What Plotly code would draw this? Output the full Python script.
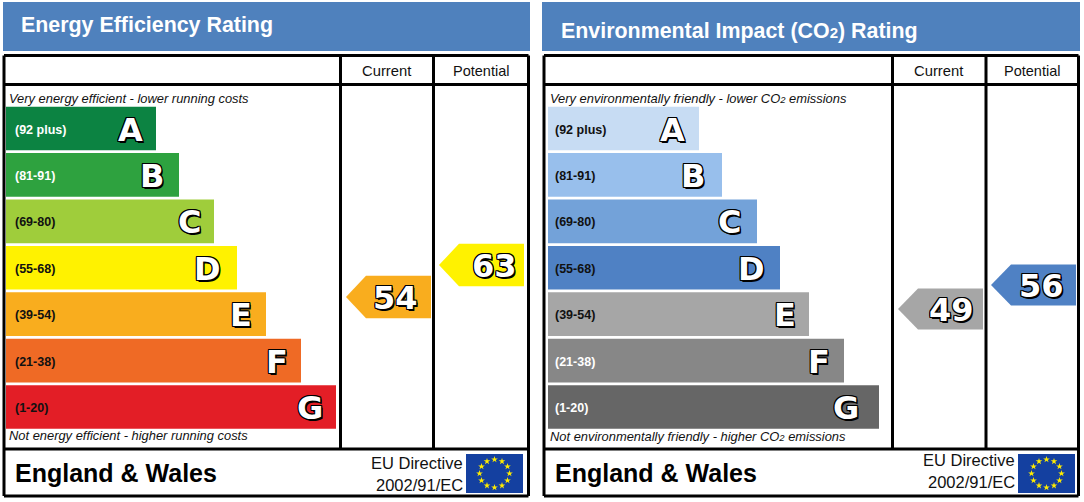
import math

import plotly.graph_objects as go

# data
bands = ["A", "B", "C", "D", "E", "F", "G"]
score_ranges = ["(92 plus)", "(81-91)", "(69-80)", "(55-68)", "(39-54)", "(21-38)", "(1-20)"]
band_floor = [92, 81, 69, 55, 39, 21, 1]

energy_lengths = [150, 173, 208, 231, 260, 295, 330]
co2_lengths = [151, 174, 209, 232, 261, 296, 331]

energy_colors = ["#0c8342", "#2ea23f", "#9fcd3b", "#fff200", "#f9ad1e", "#ef6a25", "#e31e26"]
co2_colors = ["#c7dcf3", "#98bfec", "#73a2d9", "#4f81c4", "#a6a6a6", "#878787", "#666666"]

energy_label_colors = ["white", "white", "#111", "#111", "#111", "#111", "#111"]
co2_label_colors = ["#111", "#111", "#111", "#111", "#111", "white", "white"]

energy_current, energy_potential = 54, 63
co2_current, co2_potential = 49, 56

W, H = 1084, 502
BLUE = "#4f81bd"
OUTLINE = (
    "1px 0 0 #000, -1px 0 0 #000, 0 1px 0 #000, 0 -1px 0 #000, "
    "1px 1px 0 #000, -1px 1px 0 #000, 1px -1px 0 #000, -1px -1px 0 #000, 1.5px 1.5px 0 #000"
)
SANS = "Liberation Sans"
BIG = dict(family="DejaVu Sans", size=32, color="white", weight="bold", shadow=OUTLINE)

energy_inset = [26, 27, 25, 30, 25, 24, 26]
co2_inset = [27, 29, 28, 29, 24, 25, 33]

fig = go.Figure()
shapes = []
annotations = []


def add_bars(lengths, colors, label_colors, inset, xa, ya, label_x):
    fig.add_trace(go.Bar(
        x=lengths, y=bands, orientation="h", marker=dict(color=colors, line_width=0),
        xaxis=xa, yaxis=ya, hoverinfo="skip",
    ))
    for i, band in enumerate(bands):
        annotations.append(dict(
            xref=xa, yref=ya, x=label_x, y=band, text=score_ranges[i], showarrow=False,
            xanchor="left", yanchor="middle", yshift=-1,
            font=dict(family=SANS, size=12.5, color=label_colors[i], weight="bold"),
        ))
        annotations.append(dict(
            xref=xa, yref=ya, x=lengths[i] - inset[i], y=band, text=band, showarrow=False,
            xanchor="center", yanchor="middle", yshift=-1, font=BIG,
        ))


def band_color(value, colors):
    for floor, color in zip(band_floor, colors):
        if value >= floor:
            return color
    return colors[-1]


def add_pointer(value, right_edge, colors, ya, text_inset):
    # pentagon pointing left, y stays in score units
    half = 6.0
    xs = [right_edge, right_edge - 65, right_edge - 85, right_edge - 65, right_edge, right_edge]
    ys = [value + half, value + half, value, value - half, value - half, value + half]
    fig.add_trace(go.Scatter(
        x=xs, y=ys, mode="lines", fill="toself", fillcolor=band_color(value, colors),
        line_width=0, xaxis="x3", yaxis=ya, hoverinfo="skip",
    ))
    annotations.append(dict(
        xref="x3", yref=ya, x=right_edge - text_inset, y=value, text=str(value), showarrow=False,
        xanchor="center", yanchor="middle", yshift=-1, font=BIG,
    ))


add_bars(energy_lengths, energy_colors, energy_label_colors, energy_inset, "x", "y", 7)
add_bars(co2_lengths, co2_colors, co2_label_colors, co2_inset, "x2", "y2", 5)

add_pointer(energy_current, 431, energy_colors, "y3", 36)
add_pointer(energy_potential, 524, energy_colors, "y3", 30)
add_pointer(co2_current, 983, co2_colors, "y4", 32)
add_pointer(co2_potential, 1076, co2_colors, "y4", 35)


def rect(x0, y0, x1, y1, color):
    shapes.append(dict(type="rect", xref="x3", yref="y5", x0=x0, x1=x1, y0=y0, y1=y1,
                       fillcolor=color, line_width=0, layer="below"))


def line(x0, y0, x1, y1, width=3):
    shapes.append(dict(type="line", xref="x3", yref="y5", x0=x0, x1=x1, y0=y0, y1=y1,
                       line=dict(color="black", width=width), layer="below"))


def label(x, y, text, size, anchor="left", bold=False, italic=False, color="#111"):
    annotations.append(dict(
        xref="x3", yref="y5", x=x, y=y, text=text, showarrow=False, xanchor=anchor, yanchor="middle",
        font=dict(family=SANS, size=size, color=color, weight="bold" if bold else "normal",
                  style="italic" if italic else "normal"),
    ))


SMALL2 = '<span style="font-size:{}px">2</span>'


def panel(left, right, col1, col2, head_left, head_right, title, title_y, note_top, note_bottom, note_dy,
          note_x, eu_right, eu_y):
    rect(head_left, 2, head_right, 51, BLUE)
    label(left + 15, title_y, title, 21.4, bold=True, color="white")
    line(left, 55.5, right, 55.5)
    line(left, 84.5, right, 84.5)
    line(left, 449, right, 449)
    line(left, 496, right, 496)
    line(left, 55.5, left, 496)
    line(right, 55.5, right, 496)
    line(col1, 55.5, col1, 449)
    line(col2, 55.5, col2, 449)
    label((col1 + col2) / 2 - 1, 70.5, "Current", 14.8, anchor="center")
    label((col2 + right) / 2 - 0.5, 70.5, "Potential", 14.5, anchor="center")
    label(left + note_x, 98.5, note_top, 12.9, italic=True)
    label(left + note_x, 435.5 + note_dy, note_bottom, 12.9, italic=True)
    label(left + 9, 473, "England &amp; Wales", 25, bold=True, color="black")
    label(eu_right + 1.5, eu_y, "EU Directive", 16.5, anchor="right")
    label(eu_right + 1.5, eu_y + 22, "2002/91/EC", 16.5, anchor="right")
    # flag
    fx0 = eu_right + 3
    rect(fx0, 454, fx0 + 57, 493, "#1440a0")
    cx, cy = fx0 + 28.5, 473.5
    fig.add_trace(go.Scatter(
        x=[cx + 15 * math.cos(k * math.pi / 6) for k in range(12)],
        y=[cy + 14 * math.sin(k * math.pi / 6) for k in range(12)],
        mode="markers", marker=dict(symbol="star", size=5, color="#ffec00", line_width=0),
        xaxis="x3", yaxis="y5", hoverinfo="skip",
    ))


panel(4, 528.5, 340.5, 433.5, 3, 530, "Energy Efficiency Rating", 25,
      "Very energy efficient - lower running costs", "Not energy efficient - higher running costs", 0, 3,
      463, 463)
panel(544, 1078.5, 892.5, 986, 542, 1080, f"Environmental Impact (CO{SMALL2.format(15)}) Rating", 31,
      f"Very environmentally friendly - lower CO{SMALL2.format(9.5)} emissions",
      f"Not environmentally friendly - higher CO{SMALL2.format(9.5)} emissions", 0.5, 4,
      1015, 460)

blank = dict(visible=False, fixedrange=True)
bar_y = dict(blank, domain=[(H - 430.2) / H, (H - 105.3) / H], type="category",
             categoryorder="array", categoryarray=bands, autorange="reversed")

fig.update_layout(
    width=W, height=H,
    margin=dict(l=0, r=0, t=0, b=0),
    paper_bgcolor="white", plot_bgcolor="rgba(0,0,0,0)",
    showlegend=False, bargap=0.06, hovermode=False,
    shapes=shapes, annotations=annotations,
    xaxis=dict(blank, domain=[6 / W, 340 / W], range=[0, 334]),
    yaxis=dict(bar_y, anchor="x"),
    xaxis2=dict(blank, domain=[548 / W, 890 / W], range=[0, 342]),
    yaxis2=dict(bar_y, anchor="x2"),
    # whole-page axis in pixels, score axes for the pointers
    xaxis3=dict(blank, domain=[0, 1], range=[0, W]),
    yaxis3=dict(blank, domain=[0, 1], anchor="x3", range=[54 - 205 / 3.55, 54 + 297 / 3.55]),
    yaxis4=dict(blank, domain=[0, 1], anchor="x3", range=[56 - 217 / 3.43, 56 + 285 / 3.43]),
    yaxis5=dict(blank, domain=[0, 1], anchor="x3", range=[H, 0]),
)

fig.write_html("out.html", config=dict(displayModeBar=False),
               post_script="document.body.style.margin='0';")
